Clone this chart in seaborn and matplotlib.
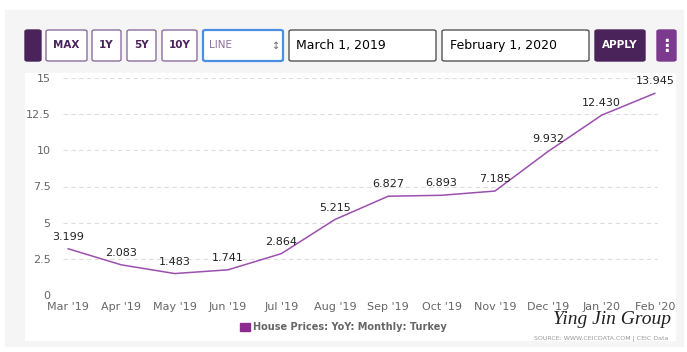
import numpy as np
import pandas as pd
import matplotlib.pyplot as plt
from matplotlib.patches import FancyBboxPatch, Rectangle
import seaborn as sns

months = ["Mar '19", "Apr '19", "May '19", "Jun '19", "Jul '19", "Aug '19",
          "Sep '19", "Oct '19", "Nov '19", "Dec '19", "Jan '20", "Feb '20"]
yoy = [3.199, 2.083, 1.483, 1.741, 2.864, 5.215,
       6.827, 6.893, 7.185, 9.932, 12.430, 13.945]
yticks = [0, 2.5, 5, 7.5, 10, 12.5, 15]
ytick_labels = ["0", "2.5", "5", "7.5", "10", "12.5", "15"]

df = pd.DataFrame({'pos': np.arange(len(months)), 'value': yoy})

sns.set_style('white')
plt.rcParams['font.family'] = ['DejaVu Sans']

W, H = 687, 352
fig = plt.figure(figsize=(W / 100, H / 100), dpi=100)
fig.patch.set_facecolor('white')

def px(x0, y0, w, h):
    # pixel box (top-left origin) -> figure coords
    return x0 / W, 1 - (y0 + h) / H, w / W, h / H

# gray page panel and white chart panel
fig.patches.append(Rectangle(px(5, 10, 678, 336)[:2], 678 / W, 336 / H,
                             transform=fig.transFigure, color='#f5f5f5', zorder=-2))
fig.patches.append(Rectangle(px(25, 73, 650, 267)[:2], 650 / W, 267 / H,
                             transform=fig.transFigure, color='white', zorder=-1))

# toolbar
purple = '#4a235a'
def button(x0, w, text, fc='white', ec='#8e6fa0', tc='#4a235a', weight='bold', ha='center', lw=1.0, tx=None):
    l, b, ww, hh = px(x0, 30, w, 31)
    fig.patches.append(FancyBboxPatch((l, b), ww, hh, boxstyle='round,pad=0,rounding_size=0.004',
                                      transform=fig.transFigure, fc=fc, ec=ec, lw=lw, zorder=1))
    if text:
        xx = (x0 + w / 2) / W if tx is None else tx / W
        fig.text(xx, b + hh / 2, text, ha=ha, va='center', color=tc, fontsize=7.5 if weight == 'bold' else 9,
                 fontweight=weight, zorder=2)

button(25, 16, '', fc=purple, ec=purple)
button(46, 41, 'MAX')
button(92, 29, '1Y')
button(127, 29, '5Y')
button(162, 35, '10Y')
button(203, 80, 'LINE', ec='#4a90e2', tc='#8e6fa0', weight='normal', ha='left', lw=1.6, tx=209)
fig.texts[-1].set_fontsize(7.5)
fig.text(276 / W, 1 - 45.5 / H, '\u2195', ha='center', va='center', fontsize=7, color='#666666')
button(289, 147, 'March 1, 2019', ec='#555555', tc='black', weight='normal', ha='left', tx=296)
button(442, 147, 'February 1, 2020', ec='#555555', tc='black', weight='normal', ha='left', tx=450)
button(595, 50, 'APPLY', fc=purple, ec=purple, tc='white')
button(657, 19, '\u22ee', fc='#7b3a8e', ec='#7b3a8e', tc='white')
fig.texts[-1].set_fontsize(12)

# chart
ax = fig.add_axes(px(63, 78, 595, 217))
ax.set_zorder(5)
ax.set_facecolor('none')
sns.lineplot(data=df, x='pos', y='value', ax=ax, color='#9b4fae', linewidth=1.1)

ax.set_xlim(-5 / 53.4, 11 + 3 / 53.4)
ax.set_ylim(0, 15)
ax.set_yticks(yticks)
ax.set_yticklabels(ytick_labels)
ax.set_xticks(df['pos'])
ax.set_xticklabels(months)
ax.tick_params(axis='both', length=0, labelsize=8, labelcolor='#666666')
ax.tick_params(axis='y', pad=9)
ax.tick_params(axis='x', pad=5)
ax.yaxis.grid(True, linestyle=(0, (4, 3)), color='#dddddd', linewidth=0.8)
ax.set_axisbelow(True)
ax.set_xlabel('')
ax.set_ylabel('')
for s in ax.spines.values():
    s.set_visible(False)
for xv, yv in zip(df['pos'], df['value']):
    ax.annotate(f'{yv:.3f}', (xv, yv), xytext=(0, 5), textcoords='offset points',
                ha='center', va='bottom', fontsize=8, color='#222222')

# legend
l, b, ww, hh = px(240, 323, 10, 8)
fig.patches.append(Rectangle((l, b), ww, hh, transform=fig.transFigure, color='#8b2a8f', zorder=2))
fig.text(253 / W, 1 - 327 / H, 'House Prices: YoY: Monthly: Turkey', ha='left', va='center',
         fontsize=7, fontweight='bold', color='#666666')

# watermark and source
fig.text(612 / W, 1 - 320 / H, 'Ying Jin Group', ha='center', va='center', fontsize=14,
         family='Liberation Serif', style='italic', color='#222222')
fig.text(668 / W, 1 - 338 / H, 'SOURCE: WWW.CEICDATA.COM | CEIC Data', ha='right', va='center',
         fontsize=4.5, color='#999999')

plt.savefig('out.png', dpi=100)
